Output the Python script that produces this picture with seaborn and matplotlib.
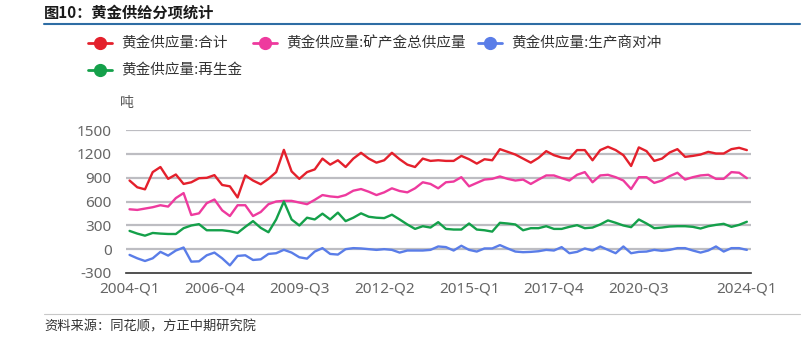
import numpy as np
import pandas as pd
import matplotlib
matplotlib.use("Agg")
import matplotlib.pyplot as plt
from matplotlib.lines import Line2D
import seaborn as sns

# ---------------- data (tonnes, quarterly 2004-Q1 .. 2024-Q1) ----------------
quarters = [f"{y}-Q{q}" for y in range(2004, 2025) for q in range(1, 5)][:81]

total = [864, 779, 753, 970, 1034, 885, 940, 821, 842, 893, 898, 932, 808, 791, 651, 928, 864, 817, 885, 970, 1250,
         979, 885, 970, 1004, 1140, 1064, 1119, 1034, 1140, 1213, 1140, 1089, 1119, 1213, 1132, 1064, 1034, 1140, 1111, 1119,
         1111, 1111, 1174, 1132, 1077, 1132, 1119, 1259, 1225, 1191, 1140, 1089, 1149, 1234, 1183, 1153, 1140, 1247, 1247, 1119,
         1247, 1289, 1247, 1183, 1047, 1281, 1234, 1111, 1140, 1217, 1259, 1162, 1174, 1191, 1225, 1204, 1204, 1259, 1276, 1247]

mine = [502, 494, 511, 528, 553, 536, 643, 706, 430, 451, 579, 625, 489, 417, 553, 553, 417, 468, 566, 600, 608,
        608, 587, 566, 621, 681, 664, 655, 681, 736, 757, 723, 681, 715, 766, 732, 715, 766, 842, 821, 766,
        842, 851, 906, 791, 834, 876, 885, 915, 885, 864, 876, 821, 876, 928, 928, 894, 864, 936, 970, 842,
        928, 936, 906, 864, 757, 906, 906, 834, 864, 919, 962, 876, 906, 928, 936, 885, 885, 970, 962, 894]

hedging = [-72, -115, -149, -115, -34, -81, -17, 21, -157, -153, -77, -43, -115, -204, -85, -77, -136, -128, -60, -51, -8,
           -43, -102, -119, -30, 13, -60, -68, 0, 13, 9, 0, -9, 0, -9, -43, -17, -17, -17, -9, 34,
           26, -17, 43, -9, -30, 9, 9, 51, 9, -30, -38, -34, -26, -9, -17, 26, -51, -34, 9, -17,
           34, -9, -51, 34, -51, -34, -30, -9, -21, -9, 13, 13, -17, -43, -17, 34, -30, 13, 13, -9]

recycling = [230, 196, 170, 204, 196, 191, 191, 264, 298, 315, 238, 238, 238, 226, 204, 281, 353, 268, 213, 374, 600,
             374, 298, 396, 374, 447, 374, 460, 353, 396, 451, 408, 396, 391, 434, 374, 311, 255, 289, 272, 340,
             255, 247, 247, 323, 247, 238, 221, 332, 323, 311, 238, 264, 264, 289, 255, 255, 281, 302, 264, 272,
             311, 362, 332, 298, 277, 374, 323, 264, 272, 285, 289, 289, 281, 260, 289, 306, 319, 281, 306, 345]

series_names = ["黄金供应量:合计", "黄金供应量:矿产金总供应量", "黄金供应量:生产商对冲", "黄金供应量:再生金"]
series_colors = ["#E4202C", "#EE3A9E", "#5A7DE8", "#14A04A"]

tick_labels = ["2004-Q1", "2006-Q4", "2009-Q3", "2012-Q2", "2015-Q1", "2017-Q4", "2020-Q3", "2024-Q1"]
y_ticks = [-300, 0, 300, 600, 900, 1200, 1500]

# ---------------- build long table ----------------
frames = []
for name, vals in zip(series_names, [total, mine, hedging, recycling]):
    frames.append(pd.DataFrame({"idx": np.arange(len(quarters)), "quarter": quarters,
                                "value": vals, "series": name}))
df = pd.concat(frames, ignore_index=True)

sns.set_theme(style="white")
plt.rcParams["font.family"] = ["Noto Sans CJK SC", "DejaVu Sans"]

W, H = 811, 339
fig = plt.figure(figsize=(W / 100, H / 100), dpi=100)
fig.patch.set_facecolor("white")

def fx(px):
    return px / W

def fy(py):
    return 1 - py / H

ax = fig.add_axes([fx(125.7), fy(273), (750.7 - 125.7) / W, (273 - 130) / H])

sns.lineplot(data=df, x="idx", y="value", hue="series", hue_order=series_names,
             palette=dict(zip(series_names, series_colors)), linewidth=1.7,
             legend=False, ax=ax, sort=True, errorbar=None)

# axes styling
ax.set_xlim(-0.5, len(quarters) - 0.5)
ax.set_ylim(-300, 1500)
ax.set_yticks(y_ticks)
ax.set_yticklabels([str(v) for v in y_ticks])
for v in y_ticks[1:]:
    ax.axhline(v, color="#BDBDC2", linewidth=1.6, zorder=0)

label_idx = [quarters.index(q) for q in tick_labels]
ax.set_xticks(label_idx)
ax.set_xticklabels(tick_labels)
bounds = [-0.5 + 11 * k for k in range(8)] + [len(quarters) - 0.5]
ax.set_xticks(bounds, minor=True)
ax.tick_params(axis="x", which="major", length=0, pad=6, labelsize=11, labelcolor="#666666")
ax.tick_params(axis="x", which="minor", length=5, width=1, color="#333333", direction="out")
ax.tick_params(axis="y", length=0, pad=10, labelsize=11, labelcolor="#666666")
for lab in ax.get_xticklabels() + ax.get_yticklabels():
    lab.set_family(["Noto Sans", "DejaVu Sans"])

for s in ["top", "right", "left"]:
    ax.spines[s].set_visible(False)
ax.spines["bottom"].set_color("#333333")
ax.spines["bottom"].set_linewidth(1.2)
ax.set_xlabel("")
ax.set_ylabel("")
ax.grid(False)

# ---------------- title & decorations ----------------
fig.text(fx(44), fy(13), "图10：黄金供给分项统计", fontsize=11, fontweight="bold",
         color="#1a1a1a", va="center", ha="left")
fig.add_artist(Line2D([fx(44), fx(800)], [fy(24), fy(24)], color="#2E6DA4", linewidth=1.5))

# legend (manual placement)
legend_pos = [(100, 43), (265, 43), (490, 43), (100, 70)]
for (mx, my), name, col in zip(legend_pos, series_names, series_colors):
    fig.add_artist(Line2D([fx(mx - 12), fx(mx + 12)], [fy(my), fy(my)], color=col, linewidth=2))
    fig.add_artist(Line2D([fx(mx)], [fy(my)], color=col, marker="o", markersize=8.5, linestyle="none"))
    fig.text(fx(mx + 21), fy(my), name, fontsize=10.5, color="#333333", va="center", ha="left")

fig.text(fx(120), fy(103), "吨", fontsize=10, color="#555555", va="center", ha="left")

fig.add_artist(Line2D([fx(44), fx(800)], [fy(314), fy(314)], color="#C8C8C8", linewidth=0.8))
fig.text(fx(44), fy(327), "资料来源：同花顺，方正中期研究院", fontsize=9.5, color="#333333",
         va="center", ha="left", style="italic")

fig.savefig("out.png", dpi=100, facecolor="white")
